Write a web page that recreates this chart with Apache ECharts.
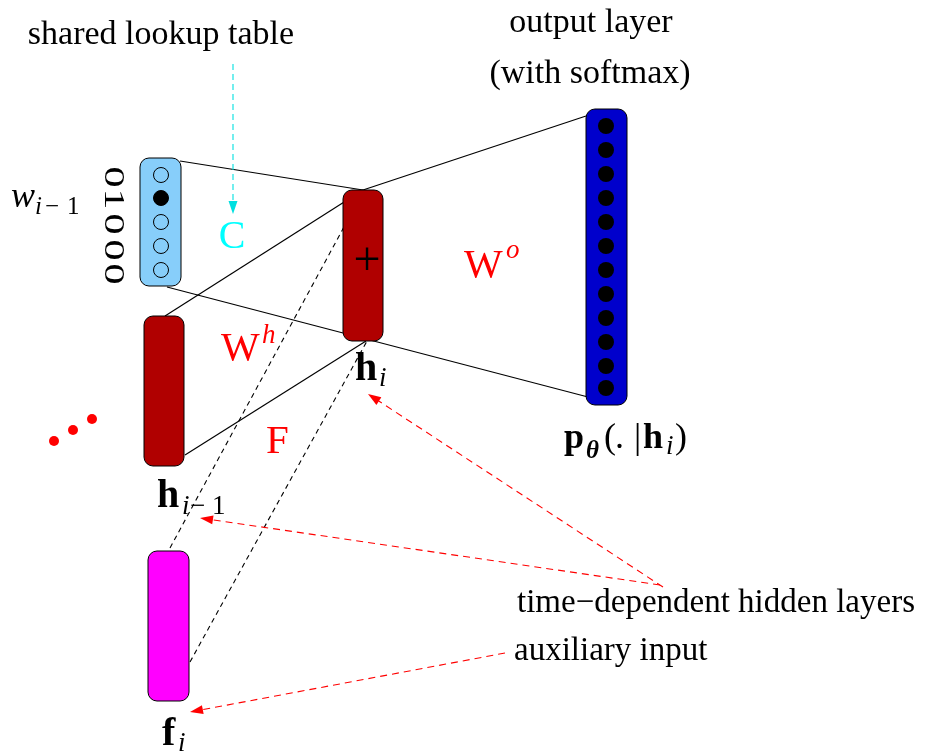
<!DOCTYPE html>
<html>
<head>
<meta charset="utf-8">
<script src="https://cdn.jsdelivr.net/npm/echarts@6/dist/echarts.min.js"></script>
<style>
html,body{margin:0;padding:0;background:#ffffff;}
#main{width:937px;height:754px;}
</style>
</head>
<body>
<div id="main"></div>
<script>
// ---------------- diagram data (diagram units: x 0..937 right, y 0..754 down) ----------------
// layers (rounded boxes)
const layerNames  = ['lookup', 'hPrev', 'hCur', 'aux', 'output'];
const layerLeft   = [140, 144, 343, 148, 586];
const layerTop    = [158, 316, 190, 551, 109];
const layerRight  = [181, 184, 383, 189, 627];
const layerBottom = [286, 466, 341, 701, 405];

// one-hot input word w_{i-1}
const inputBits   = [0, 1, 0, 0, 0];
const inputUnitX  = 161;
const inputUnitY  = [175, 198, 222, 246, 270];
const inputDigitX = 113;
const inputDigitY = [177, 199, 224, 250, 274];

// output units (softmax)
const outputUnitX = 606;
const outputUnitY = [126, 150, 174, 198, 222, 246, 270, 294, 318, 342, 366, 388];

// red ellipsis "..."
const ellipsisX = [54, 73, 92];
const ellipsisY = [441, 430, 419];

// connections [x1, y1, x2, y2]
const solidLinks = [
  [180, 161, 363, 190],   // lookup -> h_i (top)
  [167, 287, 588, 397],   // lookup -> h_i -> output (bottom)
  [586, 116, 363, 190],   // h_i -> output (top)
  [165, 316, 363, 190],   // h_{i-1} -> h_i (top)
  [185, 455, 366, 341]    // h_{i-1} -> h_i (bottom)
];
const dashedLinks = [
  [170, 548, 364, 190],   // f_i -> h_i (top)
  [190, 662, 367, 341]    // f_i -> h_i (bottom)
];
const noteArrows = [
  [663, 587, 368, 394],   // time-dependent -> h_i
  [660, 585, 200, 518],   // time-dependent -> h_{i-1}
  [505, 653, 190, 712]    // auxiliary input -> f_i
];
const lookupArrows = [
  [233, 64, 233, 214]     // shared lookup table -> C
];

// text labels (x, baseline y)
const labelText = [
  'shared lookup table', 'output layer', '(with softmax)',
  'time\u2212dependent hidden layers', 'auxiliary input',
  'C', 'W', 'h', 'F', 'W', 'o', '+',
  'h', 'i',
  'h', 'i', '\u2212', '1',
  'f', 'i',
  'w', 'i', '\u2212', '1',
  'p', '\u03B8', '(', '.', '|', 'h', 'i', ')'
];
const labelX = [
  161, 591, 590,
  517, 514,
  232, 221, 262, 266, 464, 506, 367,
  355, 379,
  157, 182, 190, 212,
  162, 178,
  11, 35, 45, 67,
  564, 586, 604, 615, 634, 643, 666, 675
];
const labelY = [
  44, 32, 83,
  612, 660,
  248, 360, 343, 453, 277, 258, 275,
  380, 386,
  507, 514, 514, 514,
  745, 751,
  207, 214, 214, 214,
  448, 458, 448, 448, 448, 448, 454, 448
];
const labelKind = [
  'caption', 'caption', 'caption',
  'note', 'note',
  'weightCyan', 'weight', 'weightSup', 'weight', 'weight', 'weightSup', 'plus',
  'vec', 'sub',
  'vec', 'sub', 'subRoman', 'subRoman',
  'vec', 'sub',
  'mathVar', 'subSmall', 'subSmallRoman', 'subSmallRoman',
  'vecSmall', 'theta', 'paren', 'paren', 'paren', 'vecSmall', 'sub', 'paren'
];

// ---------------- styles ----------------
const SERIF = '"Liberation Serif","Times New Roman",Times,serif';
const layerFill = {lookup: '#87cefa', hPrev: '#b00000', hCur: '#b00000', aux: '#ff00ff', output: '#0000cc'};
const textStyles = {
  caption:       {size: 34, weight: 'normal', style: 'normal', color: '#000000', align: 'center'},
  note:          {size: 33, weight: 'normal', style: 'normal', color: '#000000', align: 'left'},
  weightCyan:    {size: 40, weight: 'normal', style: 'normal', color: '#00ffff', align: 'center'},
  weight:        {size: 41, weight: 'normal', style: 'normal', color: '#ff0000', align: 'left'},
  weightSup:     {size: 27, weight: 'normal', style: 'italic', color: '#ff0000', align: 'left'},
  plus:          {size: 48, weight: 'normal', style: 'normal', color: '#000000', align: 'center'},
  vec:           {size: 40, weight: 'bold',   style: 'normal', color: '#000000', align: 'left'},
  vecSmall:      {size: 36, weight: 'bold',   style: 'normal', color: '#000000', align: 'left'},
  sub:           {size: 27, weight: 'normal', style: 'italic', color: '#000000', align: 'left'},
  subRoman:      {size: 27, weight: 'normal', style: 'normal', color: '#000000', align: 'left'},
  subSmall:      {size: 25, weight: 'normal', style: 'italic', color: '#000000', align: 'left'},
  subSmallRoman: {size: 25, weight: 'normal', style: 'normal', color: '#000000', align: 'left'},
  mathVar:       {size: 36, weight: 'normal', style: 'italic', color: '#000000', align: 'left'},
  paren:         {size: 36, weight: 'normal', style: 'normal', color: '#000000', align: 'left'},
  theta:         {size: 25, weight: 'bold',   style: 'italic', color: '#000000', align: 'left'},
  digit:         {size: 29, weight: 'normal', style: 'normal', color: '#000000', align: 'center', stretch: 1.45}
};

// ---------------- chart ----------------
const chart = echarts.init(document.getElementById('main'), null, {renderer: 'canvas'});

function linkSeries(name, rows, stroke, width, dash, arrow) {
  return {
    type: 'custom', name: name, coordinateSystem: 'cartesian2d', silent: true, clip: false,
    dimensions: ['x1', 'y1', 'x2', 'y2'],
    encode: {x: [0, 2], y: [1, 3]},
    data: rows,
    z: 2,
    renderItem: function (params, api) {
      const a = api.coord([api.value(0), api.value(1)]);
      const b = api.coord([api.value(2), api.value(3)]);
      const children = [];
      let end = b;
      if (arrow) {
        const dx = b[0] - a[0], dy = b[1] - a[1];
        const len = Math.sqrt(dx * dx + dy * dy);
        const ux = dx / len, uy = dy / len;
        const L = 13, W = 4.5;
        const bx = b[0] - ux * L, by = b[1] - uy * L;
        end = [bx + ux * 2, by + uy * 2];
        children.push({
          type: 'polygon',
          shape: {points: [[b[0], b[1]], [bx - uy * W, by + ux * W], [bx + uy * W, by - ux * W]]},
          style: {fill: stroke}
        });
      }
      children.unshift({
        type: 'line',
        shape: {x1: a[0], y1: a[1], x2: end[0], y2: end[1]},
        style: {stroke: stroke, lineWidth: width, lineDash: dash || null, fill: null}
      });
      return {type: 'group', children: children};
    }
  };
}

const layerRows = layerNames.map((n, i) => [layerLeft[i], layerTop[i], layerRight[i], layerBottom[i], i]);
const inputRows = inputBits.map((b, i) => [inputUnitX, inputUnitY[i], b]);
const outputRows = outputUnitY.map(y => [outputUnitX, y]);
const ellipsisRows = ellipsisX.map((x, i) => [x, ellipsisY[i]]);
const digitRows = inputBits.map((b, i) => [inputDigitX, inputDigitY[i], b]);
const labelRows = labelText.map((t, i) => [labelX[i], labelY[i], i]);

function textEl(api, x, y, str, st, rotation) {
  const p = api.coord([x, y]);
  let cx = p[0], cy = p[1] - 0.27 * st.size;   // baseline -> middle
  if (rotation) { cx = p[0]; cy = p[1]; }
  return {
    type: 'text', x: cx, y: cy, rotation: rotation || 0, scaleX: st.stretch || 1,
    style: {
      text: str,
      font: st.style + ' ' + st.weight + ' ' + st.size + 'px ' + SERIF,
      fill: st.color,
      align: st.align,
      verticalAlign: 'middle'
    }
  };
}

const option = {
  animation: false,
  backgroundColor: '#ffffff',
  grid: {left: 0, right: 0, top: 0, bottom: 0, containLabel: false},
  xAxis: {type: 'value', min: 0, max: 937, show: false},
  yAxis: {type: 'value', min: 0, max: 754, inverse: true, show: false},
  series: [
    linkSeries('solid', solidLinks, '#000000', 1.2, null, false),
    linkSeries('dashed', dashedLinks, '#000000', 1.1, [5, 4], false),
    {
      type: 'custom', name: 'layers', coordinateSystem: 'cartesian2d', silent: true, clip: false,
      dimensions: ['l', 't', 'r', 'b', 'k'],
      encode: {x: [0, 2], y: [1, 3]},
      data: layerRows, z: 3,
      renderItem: function (params, api) {
        const p0 = api.coord([api.value(0), api.value(1)]);
        const p1 = api.coord([api.value(2), api.value(3)]);
        const name = layerNames[api.value(4)];
        return {
          type: 'rect',
          shape: {x: p0[0], y: p0[1], width: p1[0] - p0[0], height: p1[1] - p0[1], r: 9},
          style: {fill: layerFill[name], stroke: '#000000', lineWidth: 1}
        };
      }
    },
    {
      type: 'scatter', name: 'inputUnits', silent: true, z: 4,
      data: inputRows, symbol: 'circle', symbolSize: 15,
      itemStyle: {
        color: p => (p.value[2] ? '#000000' : layerFill.lookup),
        borderColor: '#000000', borderWidth: 1, opacity: 1
      }
    },
    {
      type: 'scatter', name: 'outputUnits', silent: true, z: 4,
      data: outputRows, symbol: 'circle', symbolSize: 16,
      itemStyle: {color: '#000000', opacity: 1}
    },
    {
      type: 'scatter', name: 'ellipsis', silent: true, z: 4,
      data: ellipsisRows, symbol: 'circle', symbolSize: 10,
      itemStyle: {color: '#ff0000', opacity: 1}
    },
    {
      type: 'custom', name: 'digits', coordinateSystem: 'cartesian2d', silent: true, clip: false,
      dimensions: ['x', 'y', 'bit'], encode: {x: 0, y: 1},
      data: digitRows, z: 5,
      renderItem: function (params, api) {
        return textEl(api, api.value(0), api.value(1), String(api.value(2)), textStyles.digit, -Math.PI / 2);
      }
    },
    {
      type: 'custom', name: 'labels', coordinateSystem: 'cartesian2d', silent: true, clip: false,
      dimensions: ['x', 'y', 'i'], encode: {x: 0, y: 1},
      data: labelRows, z: 6,
      renderItem: function (params, api) {
        const i = api.value(2);
        return textEl(api, api.value(0), api.value(1), labelText[i], textStyles[labelKind[i]], 0);
      }
    },
    linkSeries('noteArrows', noteArrows, '#ff0000', 1.1, [7, 5], true),
    linkSeries('lookupArrow', lookupArrows, '#00e0e0', 1.1, [6, 4], true)
  ]
};
chart.setOption(option);
</script>
</body>
</html>
